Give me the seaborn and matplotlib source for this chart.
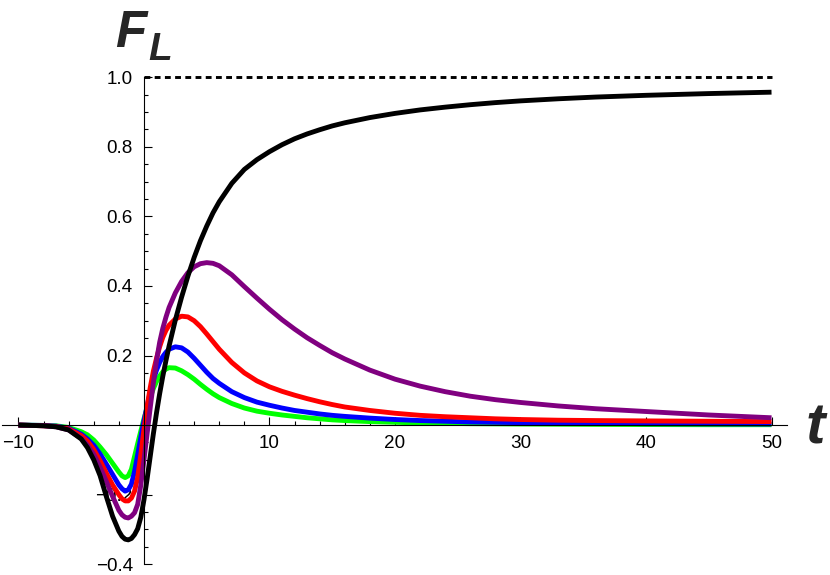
import numpy as np
import pandas as pd
import seaborn as sns
import matplotlib
matplotlib.use("Agg")
from matplotlib import pyplot as plt

# sample times shared by all curves
t_values = [-10, -8, -7, -6, -5, -4.5, -4, -3.5, -3, -2.5, -2, -1.75, -1.5, -1.25, -1, -0.75,
            -0.5, -0.25, 0, 0.25, 0.5, 0.75, 1, 1.25, 1.5, 1.75, 2, 2.5, 3, 3.5, 4, 4.5, 5,
            5.5, 6, 7, 8, 9, 10, 11, 12, 13, 14, 15, 16, 18, 20, 22, 24, 26, 28, 30, 33,
            36, 40, 45, 50]

f_green = [0.0, -0.001, -0.002, -0.007, -0.019, -0.028, -0.043, -0.063, -0.085, -0.11, -0.135, -0.146,
           -0.151, -0.146, -0.127, -0.09, -0.053, -0.017, 0.018, 0.05, 0.08, 0.105, 0.125, 0.141, 0.153,
           0.161, 0.165, 0.164, 0.156, 0.145, 0.132, 0.117, 0.103, 0.09, 0.079, 0.062, 0.049, 0.04,
           0.034, 0.029, 0.025, 0.021, 0.018, 0.015, 0.013, 0.01, 0.008, 0.006, 0.005, 0.004, 0.0035,
           0.003, 0.0025, 0.002, 0.0015, 0.001, 0.001]

f_blue = [0.0, -0.001, -0.003, -0.009, -0.026, -0.04, -0.058, -0.083, -0.112, -0.142, -0.172, -0.183,
          -0.19, -0.186, -0.17, -0.133, -0.085, -0.035, 0.012, 0.055, 0.095, 0.13, 0.158, 0.18, 0.197,
          0.209, 0.218, 0.225, 0.222, 0.21, 0.192, 0.172, 0.152, 0.134, 0.12, 0.096, 0.079, 0.066,
          0.057, 0.049, 0.042, 0.037, 0.032, 0.028, 0.025, 0.02, 0.016, 0.013, 0.011, 0.009, 0.008,
          0.007, 0.006, 0.005, 0.004, 0.0035, 0.003]

f_red = [0.0, -0.002, -0.004, -0.011, -0.03, -0.046, -0.07, -0.102, -0.138, -0.172, -0.2, -0.212,
         -0.218, -0.218, -0.21, -0.19, -0.15, -0.085, -0.012, 0.053, 0.108, 0.155, 0.192, 0.225, 0.252,
         0.272, 0.287, 0.305, 0.313, 0.311, 0.3, 0.283, 0.262, 0.24, 0.218, 0.18, 0.15, 0.127,
         0.11, 0.097, 0.086, 0.076, 0.067, 0.059, 0.052, 0.042, 0.034, 0.028, 0.024, 0.021, 0.018,
         0.016, 0.014, 0.013, 0.012, 0.011, 0.01]

f_purple = [0.0, -0.002, -0.005, -0.014, -0.038, -0.058, -0.084, -0.12, -0.162, -0.205, -0.245, -0.258,
            -0.265, -0.267, -0.262, -0.252, -0.228, -0.172, -0.10, -0.025, 0.05, 0.122, 0.185, 0.238, 0.278,
            0.31, 0.338, 0.38, 0.413, 0.438, 0.455, 0.464, 0.467, 0.465, 0.458, 0.432, 0.398, 0.365,
            0.333, 0.303, 0.276, 0.251, 0.229, 0.208, 0.19, 0.158, 0.132, 0.112, 0.096, 0.083, 0.073,
            0.065, 0.055, 0.047, 0.039, 0.029, 0.021]

f_black = [0.0, -0.002, -0.005, -0.014, -0.040, -0.065, -0.100, -0.145, -0.205, -0.262, -0.305, -0.320,
           -0.328, -0.330, -0.326, -0.315, -0.298, -0.265, -0.215, -0.155, -0.09, -0.025, 0.035, 0.09, 0.14,
           0.185, 0.227, 0.302, 0.368, 0.428, 0.482, 0.53, 0.572, 0.61, 0.642, 0.695, 0.735, 0.763,
           0.786, 0.806, 0.823, 0.837, 0.849, 0.86, 0.869, 0.884, 0.896, 0.906, 0.914, 0.921, 0.927,
           0.932, 0.938, 0.943, 0.948, 0.953, 0.957]

asymptote_level = 1.0

x_major = [-10, 10, 20, 30, 40, 50]
x_major_labels = ["\u221210", "10", "20", "30", "40", "50"]
y_major = [-0.4, -0.2, 0.2, 0.4, 0.6, 0.8, 1.0]
y_major_labels = ["\u22120.4", "\u22120.2", "0.2", "0.4", "0.6", "0.8", "1.0"]

curves = [
    (f_green, "#00ff00"),
    (f_blue, "#0000ff"),
    (f_red, "#ff0000"),
    (f_purple, "#800080"),
    (f_black, "#000000"),
]

sns.set_theme(style="white")
plt.rcParams['font.family'] = ['Liberation Sans', 'DejaVu Sans']

fig = plt.figure(figsize=(8.3, 5.75), dpi=100)
ax = fig.add_axes([0, 0, 1, 1])
ax.set_facecolor("white")

for ff, col in curves:
    df = pd.DataFrame({"t": t_values, "F": ff})
    sns.lineplot(data=df, x="t", y="F", color=col, linewidth=3.5, sort=False, ax=ax,
                 solid_capstyle="butt", solid_joinstyle="round")

ax.hlines(asymptote_level, 0, max(t_values), colors="black", linewidth=2.1,
          linestyles=(0, (2.0, 1.5)))

ax.set_xlim(-11.47, 54.66)
ax.set_ylim(-0.431, 1.222)

for s in ["top", "right"]:
    ax.spines[s].set_visible(False)
ax.spines["left"].set_position(("data", 0))
ax.spines["bottom"].set_position(("data", 0))
ax.spines["left"].set_bounds(-0.4, 1.0)
ax.spines["bottom"].set_bounds(-11.3, 51.2)
for s in ["left", "bottom"]:
    ax.spines[s].set_color("black")
    ax.spines[s].set_linewidth(0.8)
    ax.spines[s].set_visible(True)

ax.set_xticks(x_major)
ax.set_xticklabels(x_major_labels)
ax.set_xticks(np.arange(-10, 51, 2), minor=True)
ax.set_yticks(y_major)
ax.set_yticklabels(y_major_labels)
ax.set_yticks(np.arange(-0.4, 1.001, 0.05), minor=True)

ax.tick_params(which="both", direction="in", color="black", width=0.8,
               labelsize=13.6, labelcolor="black")
ax.tick_params(which="major", length=5.8)
ax.tick_params(which="minor", length=3.2)
ax.tick_params(axis="x", which="major", pad=7, bottom=True)
ax.tick_params(axis="x", which="minor", bottom=True)
ax.tick_params(axis="y", which="major", pad=8, left=True)
ax.tick_params(axis="y", which="minor", left=True)
ax.set_xlabel("")
ax.set_ylabel("")
ax.grid(False)

W, H = 830, 575
fig.text(115 / W, 1 - 47 / H, "F", fontsize=37, fontweight="bold", fontstyle="italic",
         ha="left", va="baseline")
fig.text(148 / W, 1 - 60 / H, "L", fontsize=28, fontweight="bold", fontstyle="italic",
         ha="left", va="baseline")
fig.text(806 / W, 1 - 443 / H, "t", fontsize=42, fontweight="bold", fontstyle="italic",
         ha="left", va="baseline")

fig.savefig("out.png", dpi=100)
